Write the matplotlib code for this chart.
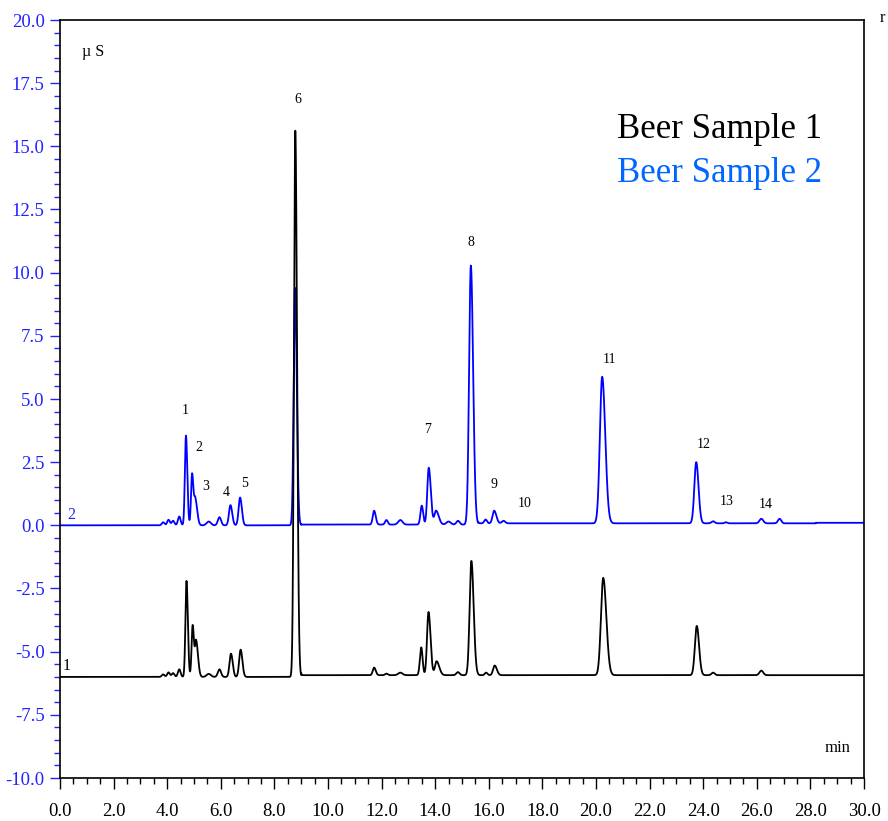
import numpy as np
import matplotlib
matplotlib.use("Agg")
import matplotlib.pyplot as plt
from matplotlib.ticker import MultipleLocator, FormatStrFormatter

# ---------------- data ----------------
# peak tables: retention time (min), height (uS above baseline), left/right widths (min)
s2_time  = [3.85, 4.05, 4.22, 4.45, 4.70, 4.93, 5.05, 5.55, 5.95, 6.36, 6.72, 8.77,
            11.72, 12.18, 12.70, 13.50, 13.76, 14.03, 14.50, 14.85, 15.33, 15.88, 16.20, 16.55,
            20.23, 23.74, 24.37, 24.85, 26.17, 26.85]
s2_height = [0.12, 0.22, 0.18, 0.35, 3.55, 2.05, 1.00, 0.15, 0.32, 0.80, 1.10, 9.40,
             0.55, 0.18, 0.18, 0.75, 2.25, 0.55, 0.12, 0.15, 10.25, 0.15, 0.50, 0.10,
             5.80, 2.42, 0.08, 0.04, 0.18, 0.18]
s2_wl = [0.05, 0.05, 0.05, 0.05, 0.04, 0.04, 0.04, 0.08, 0.06, 0.055, 0.055, 0.05,
         0.05, 0.05, 0.08, 0.05, 0.055, 0.06, 0.08, 0.06, 0.065, 0.05, 0.06, 0.06,
         0.085, 0.07, 0.06, 0.05, 0.07, 0.06]
s2_wr = [0.05, 0.05, 0.05, 0.05, 0.05, 0.05, 0.07, 0.08, 0.06, 0.065, 0.065, 0.065,
         0.06, 0.05, 0.08, 0.05, 0.075, 0.10, 0.08, 0.06, 0.085, 0.05, 0.08, 0.06,
         0.115, 0.085, 0.06, 0.05, 0.07, 0.06]
s2_base_time  = [0.0, 9.0, 15.6, 28.2]
s2_base_level = [0.0, 0.03, 0.08, 0.10]

s1_time  = [3.85, 4.05, 4.22, 4.45, 4.72, 4.95, 5.08, 5.55, 5.95, 6.38, 6.74, 8.78,
            11.72, 12.18, 12.70, 13.48, 13.75, 14.05, 14.85, 15.35, 15.90, 16.22,
            20.27, 23.76, 24.37, 26.17]
s1_height = [0.10, 0.18, 0.15, 0.30, 3.80, 2.05, 1.40, 0.12, 0.30, 0.92, 1.08, 21.62,
             0.30, 0.06, 0.10, 1.10, 2.50, 0.55, 0.12, 4.52, 0.10, 0.38,
             3.85, 1.95, 0.10, 0.18]
s1_wl = [0.05, 0.05, 0.05, 0.05, 0.04, 0.04, 0.04, 0.08, 0.06, 0.055, 0.055, 0.05,
         0.05, 0.05, 0.08, 0.05, 0.055, 0.06, 0.06, 0.065, 0.05, 0.06,
         0.085, 0.07, 0.06, 0.07]
s1_wr = [0.05, 0.05, 0.05, 0.05, 0.05, 0.05, 0.07, 0.08, 0.06, 0.065, 0.065, 0.065,
         0.06, 0.05, 0.08, 0.05, 0.075, 0.10, 0.06, 0.085, 0.05, 0.08,
         0.115, 0.085, 0.06, 0.07]
s1_base_time  = [0.0, 9.0]
s1_base_level = [-6.0, -5.93]

peak_labels = ["1", "2", "3", "4", "5", "6", "7", "8", "9", "10", "11", "12", "13", "14"]
label_x = [4.66, 5.19, 5.45, 6.19, 6.90, 8.88, 13.73, 15.34, 16.19, 17.35, 20.49, 24.03, 24.89, 26.34]
label_y = [4.53, 3.10, 1.52, 1.28, 1.64, 16.87, 3.81, 11.18, 1.60, 0.85, 6.55, 3.18, 0.93, 0.81]

x_ticks = np.arange(0, 30.1, 2.0)
y_ticks = np.arange(-10, 20.1, 2.5)


def trace(t, times, heights, wl, wr, btimes, blevels):
    y = np.zeros_like(t)
    for bt, bl in zip(btimes, blevels):
        y = np.where(t >= bt, bl, y)
    for c, h, a, b in zip(times, heights, wl, wr):
        s = np.where(t < c, a, b)
        y = y + h * np.exp(-0.5 * ((t - c) / s) ** 2)
    return y


t = np.linspace(0, 30, 9001)
y2 = trace(t, s2_time, s2_height, s2_wl, s2_wr, s2_base_time, s2_base_level)
y1 = trace(t, s1_time, s1_height, s1_wl, s1_wr, s1_base_time, s1_base_level)

# ---------------- plot ----------------
plt.rcParams['font.family'] = ['Liberation Serif', 'DejaVu Serif']
fig = plt.figure(figsize=(8.88, 8.21), dpi=100)
ax = fig.add_axes([60 / 888, 1 - 778 / 821, (864 - 60) / 888, (778 - 20) / 821])

tick_blue = '#2222ff'
ax.plot(t, y2, color='#0000ff', lw=1.3)
ax.plot(t, y1, color='black', lw=1.3)

ax.set_xlim(0, 30)
ax.set_ylim(-10, 20)
ax.set_xticks(x_ticks)
ax.xaxis.set_minor_locator(MultipleLocator(0.5))
ax.set_yticks(y_ticks)
ax.yaxis.set_minor_locator(MultipleLocator(0.5))
ax.xaxis.set_major_formatter(FormatStrFormatter('%.1f'))
ax.yaxis.set_major_formatter(FormatStrFormatter('%.1f'))
ax.tick_params(axis='x', which='major', direction='out', length=8, width=1, labelsize=13.5, pad=10, colors='black')
ax.tick_params(axis='x', which='minor', direction='out', length=4, width=1)
ax.tick_params(axis='y', which='major', direction='out', length=7, width=1, labelsize=13.5, pad=4,
               colors=tick_blue)
ax.tick_params(axis='y', which='minor', direction='out', length=4, width=1, colors=tick_blue)
for sp in ax.spines.values():
    sp.set_linewidth(1.2)

for lab, lx, ly in zip(peak_labels, label_x, label_y):
    ax.text(lx, ly, lab, fontsize=10, ha='center', va='center', color='black')

ax.text(0.41, 0.41, "2", fontsize=11.5, color='#2222ff', ha='center', va='center')
ax.text(0.26, -5.56, "1", fontsize=11.5, color='black', ha='center', va='center')
ax.text(0.82, 18.73, "µ S", fontsize=11.5, ha='left', va='center')
ax.text(29.0, -8.8, "min", fontsize=12, ha='center', va='center')

ax.text(0.693, 0.855, "Beer Sample 1", transform=ax.transAxes, fontsize=25, color='black',
        ha='left', va='center')
ax.text(0.693, 0.798, "Beer Sample 2", transform=ax.transAxes, fontsize=25, color='#0066ff',
        ha='left', va='center')

fig.text(880 / 888, 1 - 18 / 821, "r", fontsize=12, ha='left', va='center')

fig.savefig("out.png", dpi=100)
